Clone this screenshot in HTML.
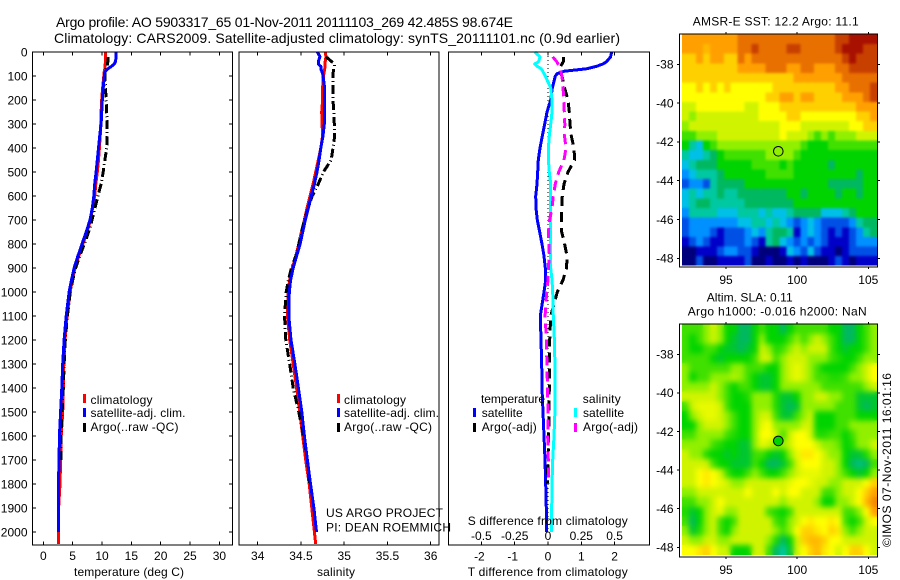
<!DOCTYPE html>
<html><head><meta charset="utf-8"><title>Argo profile</title>
<style>
html,body{margin:0;padding:0;background:#fff}
svg{display:block}
text{font-family:"Liberation Sans",sans-serif;font-size:12px;fill:#000}
</style></head>
<body>
<svg id="chart" xmlns="http://www.w3.org/2000/svg" width="900" height="580" viewBox="0 0 900 580">
<defs>
<filter id="blurSst" filterUnits="userSpaceOnUse" x="660" y="0" width="240" height="600" color-interpolation-filters="sRGB"><feGaussianBlur stdDeviation="1.2"/></filter>
<filter id="blurSla" filterUnits="userSpaceOnUse" x="660" y="0" width="240" height="600" color-interpolation-filters="sRGB"><feGaussianBlur stdDeviation="3"/></filter>
</defs>
<rect width="900" height="580" fill="#fff"/>
<text x="56" y="27" style="font-size:14px" textLength="457">Argo profile: AO 5903317_65 01-Nov-2011 20111103_269 42.485S 98.674E</text>
<text x="54" y="43" style="font-size:14px" textLength="566">Climatology: CARS2009. Satellite-adjusted climatology: synTS_20111101.nc (0.9d earlier)</text>
<g id="plots"></g>
<g id="maps"></g>

<g>
<rect x="83" y="394" width="3" height="9" fill="#f00"/>
<rect x="83" y="408" width="3" height="9" fill="#00f"/>
<rect x="83" y="423" width="3" height="9" fill="#000"/>
<text x="90.5" y="404" textLength="62">climatology</text>
<text x="90.5" y="417" textLength="95">satellite-adj. clim.</text>
<text x="90.5" y="431" textLength="88">Argo(..raw -QC)</text>
</g>
<g>
<rect x="337" y="394" width="3" height="9" fill="#f00"/>
<rect x="337" y="408" width="3" height="9" fill="#00f"/>
<rect x="337" y="423" width="3" height="9" fill="#000"/>
<text x="344" y="404" textLength="62">climatology</text>
<text x="344" y="417" textLength="95">satellite-adj. clim.</text>
<text x="344" y="431" textLength="88">Argo(..raw -QC)</text>
</g>
<g>
<text x="481" y="403" textLength="64">temperature</text>
<text x="582.7" y="403" textLength="38">salinity</text>
<rect x="473" y="408" width="3" height="9" fill="#00f"/>
<rect x="473" y="423" width="3" height="9" fill="#000"/>
<rect x="574" y="408" width="3" height="9" fill="#0ff"/>
<rect x="574" y="423" width="3" height="9" fill="#f0f"/>
<text x="481.7" y="417" textLength="41">satellite</text>
<text x="481.7" y="431" textLength="55">Argo(-adj)</text>
<text x="583" y="417" textLength="41">satellite</text>
<text x="583" y="431" textLength="55">Argo(-adj)</text>
</g>
<text x="326" y="517" textLength="117">US ARGO PROJECT</text>
<text x="326" y="531.7" textLength="125">PI: DEAN ROEMMICH</text>
<text x="467.7" y="525" textLength="160">S difference from climatology</text>
<text x="467.7" y="576" textLength="160">T difference from climatology</text>
<text x="74" y="576" textLength="110">temperature (deg C)</text>
<text x="317" y="576" textLength="38">salinity</text>
<text x="692.7" y="25.7" textLength="166">AMSR-E SST: 12.2 Argo: 11.1</text>
<text x="706.7" y="301.7" textLength="86">Altim. SLA: 0.11</text>
<text x="687.7" y="315.7" textLength="179">Argo h1000: -0.016 h2000: NaN</text>
<text transform="translate(891,547) rotate(-90)" textLength="174">©IMOS 07-Nov-2011 16:01:16</text>
</svg>
<script>
const depthLevels = [0,20,40,50,60,70,80,90,100,150,200,250,300,350,400,450,500,550,600,650,700,750,800,850,900,950,1000,1100,1200,1300,1400,1500,1600,1700,1800,1900,2000,2050];
const tempClimatology = [10.6,10.6,10.6,10.55,10.5,10.5,10.4,10.35,10.3,10.1,9.95,9.85,9.8,9.7,9.55,9.4,9.2,8.95,8.75,8.4,8.05,7.45,6.75,6.05,5.4,4.95,4.55,4.05,3.7,3.5,3.4,3.3,3.05,2.95,2.85,2.6,2.55,2.55];
const tempSatellite = [12.4,12.4,12.3,12.1,11.6,11,10.6,10.4,10.4,10.2,10.05,9.95,9.85,9.6,9.4,9.2,9.0,8.75,8.6,8.35,7.95,7.3,6.6,5.9,5.25,4.8,4.4,3.9,3.55,3.3,3.15,2.95,2.75,2.7,2.58,2.56,2.55,null];
const tempArgo = [null,11,11,10.9,10.9,10.7,10.6,10.5,10.5,10.6,10.7,10.8,10.85,10.85,10.8,10.5,10.2,9.85,9.3,8.8,8.3,7.7,7.0,6.2,5.5,5.0,4.6,4.1,3.75,3.55,3.4,3.2,3.05,3.0,null,null,null,null];
const salClimatology = [34.78,34.79,34.78,34.78,34.78,34.775,34.77,34.765,34.76,34.75,34.75,34.74,34.745,34.75,34.73,34.70,34.67,34.64,34.605,34.57,34.54,34.505,34.475,34.44,34.40,34.37,34.35,34.345,34.37,34.41,34.45,34.485,34.52,34.555,34.595,34.625,34.655,34.67];
const salSatellite = [34.69,34.72,34.70,34.70,34.73,34.73,34.74,34.75,34.755,34.775,34.775,34.775,34.77,34.755,34.73,34.71,34.685,34.655,34.62,34.585,34.55,34.52,34.49,34.45,34.41,34.38,34.365,34.36,34.385,34.43,34.47,34.51,34.54,34.575,34.61,34.65,34.68,null];
const salArgo = [null,34.79,34.855,34.885,34.885,34.88,34.875,34.87,34.87,34.87,34.87,34.88,34.885,34.89,34.87,34.85,34.76,34.70,34.63,34.585,34.54,34.505,34.475,34.44,34.39,34.355,34.33,34.31,34.325,34.37,34.41,34.475,34.53,34.575,34.60,null,null,null];
const tDiffSatellite = [1.91,1.88,1.76,1.65,1.45,1.15,0.5,0.28,0.22,0.13,0.08,-0.03,-0.10,-0.17,-0.24,-0.29,-0.31,-0.33,-0.37,-0.36,-0.32,-0.25,-0.18,-0.12,-0.08,-0.07,-0.12,-0.23,-0.21,-0.19,-0.18,-0.15,-0.12,-0.09,-0.07,-0.05,-0.05,null];
const tDiffArgo = [null,0.46,0.46,0.42,0.38,0.36,0.36,0.38,0.42,0.5,0.6,0.64,0.66,0.70,0.78,0.80,0.6,0.48,0.43,0.41,0.41,0.41,0.50,0.57,0.56,0.45,0.28,0.08,0.05,0.04,0.04,0.03,0.02,0.0,-0.02,null,null,null];
const sDiffSatellite = [-0.098,-0.06,-0.07,-0.10,-0.08,-0.05,-0.04,-0.03,-0.02,0.02,0.03,0.03,0.02,0.01,0.003,0.003,0.01,0.02,0.02,0.02,0.018,0.018,0.018,0.02,0.02,0.03,0.035,0.04,0.048,0.052,0.052,0.052,0.045,0.035,0.03,0.028,0.028,null];
const sDiffArgo = [null,0.035,0.065,0.075,0.085,0.09,0.095,0.10,0.105,0.113,0.118,0.122,0.126,0.124,0.135,0.12,0.08,0.055,0.04,0.03,0.012,0.003,0.008,0.01,0.003,0.0,-0.01,-0.022,-0.012,-0.008,-0.004,0.0,-0.002,0.002,0.005,null,null,null];

const depthTicks = [0,100,200,300,400,500,600,700,800,900,1000,1100,1200,1300,1400,1500,1600,1700,1800,1900,2000];
const tempTicks = [0,5,10,15,20,25,30];
const salTicks = [34,34.5,35,35.5,36];
const salTickLabels = ['34','34.5','35','35.5','36'];
const tDiffTicks = [-2,-1,0,1,2];
const sDiffTicks = [-0.5,-0.25,0,0.25,0.5];
const sDiffTickLabels = ['-0.5','-0.25','0','0.25','0.5'];
const lonTicks = [95,100,105];
const latTicks = [38,40,42,44,46,48];

/* map values are colour-scale levels, rows north to south */
const sstGrid = [
[13,13,13,13,13,13,13,13,14,14,14,14,14,14,14,14,14,14,14,14,14,14,15,15,16,16,16,16],
[13,13,13,12.5,13,13,13,13,14,14,15,14,14,14,14,15,15,14,14,14,14,14,15,16,16,16,15,15],
[12,12,13,12,13,13,12,12,14,13,14,14,14,14,14,14,14,14,14,14,14,14,14,15,16,15,15,15],
[12,12,12,12,12,12,12,12,13,13,13,13,14,14,14,13,13,14,14,13,13,13,14,14,15,15,15,15],
[12,12,12,12,12,12,12,12,12,12,12,12,12,12,12,12,13,13,13,13,13,13,13,14,14,14,14,14],
[11,11,12,11,12,11,12,11,11,11,11,11,11,12,12,12,12,12,12,12,12,12,13,13,14,14,14,15],
[11,11,11,11,11,11,11,11,11,11,11,11,12,12,13,13,12,13,13,12,12,12,12,13,13,13,14,15],
[10,10,11,11,11,11,11,11,11,10,10,11,11,11,12,12,12,12,12,12,12,12,12,12,12,13,13,13],
[10,9,10,10,10,10,10,10,10,10,10,11,11,11,11,12,12,11,11,11,11,11,11,11,11,12,12,13],
[9,10,10,10,10,10,10,10,10,10,10,10,10,10,11,11,11,10,10,10,10,10,10,10,11,11,12,12],
[8,8,9,9,9,10,10,10,10,10,10,10,10,10,11,10,10,10,9,8,9,8,9,9,9,10,10,10],
[7,5,4,7,8,9,9,9,9,9,9,9,9,9,9,9,9,8,7,7,7,8,8,8,8,8,8,8],
[5,4,4,5,6,7,8,8,8,8,8,8,9,9,9,9,8,7,7,7,7,7,7,7,7,7,7,7],
[4,5,6,6,6,7,7,7,7,7,8,8,8,8,7,8,7,7,7,7,7,6,7,7,7,7,7,7],
[3,4,5,5,5,6,7,7,7,7,7,7,8,8,8,8,7,7,7,7,7,7,7,7,7,6,7,7],
[2,3,3,2,5,6,6,6,6,7,7,7,7,7,7,7,7,7,7,7,7,6,6,6,6,6,7,7],
[4,5,4,5,5,6,5,5,6,6,6,6,6,6,6,7,7,6,7,7,7,7,6,7,7,6,7,7],
[4,5,6,6,5,5,5,5,5,6,6,6,6,6,6,6,7,7,7,7,7,7,7,7,7,7,7,7],
[3,5,5,5,5,4,4,4,5,5,5,4,5,4,4,5,6,6,6,6,4,4,4,5,6,7,7,7],
[2,3,3,3,3,3,3,3,4,4,5,5,4,5,4,3,2,3,4,3,2,2,2,2,3,5,6,6],
[2,3,3,3,2,1,2,2,2,3,4,3,5,6,6,5,1,3,4,3,2,1,2,1,2,3,5,6],
[1,2,3,2,1,1,2,2,2,3,2,1,5,6,4,3,2,3,2,3,2,1,1,1,2,3,3,3],
[0,0,1,1,1,2,3,3,2,2,1,0,0,0,1,4,3,2,4,2,1,1,0,1,2,2,2,2],
[0,0,2,0,0,1,1,1,1,2,0,0,1,0,0,1,0,1,0,0,0,1,2,1,0,1,1,1]
];
const slaGrid = [
[8,8,8,9,10,9,7,7,6,6,7,8,7,7,6,7,8,8,8,8,8,7,7,6,6,7,8,9],
[8,7,8,9,10,9,7,6.5,6,6,7,9,7,7,7,8,9,8,9,10,9,8,7,6,6,7,8,9],
[8,7,7,8,8,7,6.5,6.5,6,6.5,7,10,9,7.5,8,9,10,9,10,10,10,8,7,6.5,7,7,8,9],
[8,8,8,8,7,6.5,7,7,7,7,8,10,10,8,9,10,10,10,9,9,9,8,7.5,7,7,8,9,9],
[9,8,8,8,8,8,8,9,9,8,8,8,7,7,9,10,10.5,10,9,8,7,7,7,7,8,9,10,11],
[9,7,8,8,9,9,9,9.5,9,8,7,6.5,6.5,7,9,10,10.5,10,9,8,8,7.5,7.5,8,9,9,10,11],
[9,9,9,9,10,9,8,7,8,8,7,6.5,6.5,7,9,9,9,9,9,9,8,8,8,8,8,8,9,10],
[10,10,10,10,10,9,8,7,7,7.5,9,9,9,7.5,6.5,6.5,7,9,9,10,10,9,9,8,8,6.5,6.5,6.5],
[8,10,10.5,10.5,10.5,10,8,7,7,7,9,9,9,7.5,6.5,6,6.5,9,9,9,9,9,8,8,8,6.5,6,6.5],
[7,9,10,10.5,10.5,10,9,8,7,7,9,10,10,8,6.5,6.5,8,9,10,7,7,7,8,8,8,7,7,7],
[7,7,9,10,10,10,9,8,7,7,9,10.5,11,9,9,9,9,10,10,7,7,7,8,8,9,9,9,9],
[8,8,9,9,9,9,8,7.5,7,7,9,11,11,10,8,10,11,11,10,7.5,7.5,8,8,7,8,9,9,9],
[9,9,9,9,8,7.5,7,7,6.5,6.5,9,10.5,10,9,9,10,11,11,11,10,9,9,8.5,7,7.5,9,9,10],
[10,9,9,7.5,7,7,6.5,7,6.5,6.5,8,8,7,6.5,7,9,10.5,11.5,11.5,11,10,9,9,7,6.5,6.5,7.5,9],
[10,10,10,10,8,7,7,6.5,6.5,6.5,8,7,6,6,6.5,8,10,11,11,11,10,10,9,7,6,5.5,6,8],
[10,10,11,11.5,11,10,8,7,7,8,9,8,7,7,8,9,10,10.5,10.5,10.5,10,10,9,8,7,6.5,7,9],
[10,10,11,11.5,11,10.5,10,9,9,10,10,10,10,10,10,10.5,11,11,10.5,10,10,9,9,10,10,10,11,12],
[9,9,10,10,10,10,10,10,10,11,10,10,10,11,10,11,11,10,10,10,8,8,9,10,10,11,12,13],
[8,8,9,9,10,11,10,10,10,10,10,10,10,10,9,10,10,10,10,9,7,7,9,9,10,11,12.5,13.5],
[7.5,6.5,7,9,10,10.5,9,9,10,10,10,10,8,7.5,7,8,10,10,10,10,10,10,10,8,8,9,11,13],
[8,6,7,9,10,8,7,8,10,10,10,10,10,8,7.5,9,10,11,11.5,11,11,11.5,11,8,7,8,10,11],
[9,6.5,7.5,9,10,8,7,9,10,10,10,10,10,9,8,9,11,12,12,11.5,11,12,11.5,9,8,9,10,10],
[10,9,9,10,10,9,9,10,10,10,10,10,9,7.5,6,7,10,12,12.5,12.5,12,11,11,10,10,10,10,10],
[11,11,11.5,12,11,10,10,7,7,7,10,10,8,6,5,6.5,10,11,12,12.5,11.5,11,10,11,12,12,11,10]
];
const argoFloat = {lon: 98.674, lat: 42.485};
const sstFloatLevel = 9;
const slaFloatLevel = 7;

const NS = 'http://www.w3.org/2000/svg';
const svgRoot = document.getElementById('chart');
const plots = document.getElementById('plots');
const maps = document.getElementById('maps');

function mk(tag, attrs, parent){
  const el = document.createElementNS(NS, tag);
  for (const k in attrs) el.setAttribute(k, attrs[k]);
  parent.appendChild(el);
  return el;
}
function hLine(x1,x2,y,parent){ return mk('line',{x1:x1,x2:x2,y1:y,y2:y,stroke:'#000','stroke-width':1,'shape-rendering':'crispEdges'},parent); }
function vLine(x,y1,y2,parent){ return mk('line',{x1:x,x2:x,y1:y1,y2:y2,stroke:'#000','stroke-width':1,'shape-rendering':'crispEdges'},parent); }

/* axis functions */
const plotTop = 52, plotBottom = 545;
const depthY = d => 52 + 0.24 * d;
const tempX = t => 43.3 + 5.87 * t;
const salX = s => 257.7 + 86.5 * (s - 34);
const tDiffX = t => 548 + 33.3 * t;
const sDiffX = s => 548 + 133.2 * s;

function seriesPath(values, xFn){
  let d = '', pen = false;
  values.forEach((v,i) => {
    if (v === null) { pen = false; return; }
    d += (pen ? 'L' : 'M') + xFn(v).toFixed(1) + ' ' + depthY(depthLevels[i]).toFixed(1);
    pen = true;
  });
  return d;
}
function drawSeries(values, xFn, color, dash, name, parent){
  const el = mk('path',{d:seriesPath(values,xFn),fill:'none',stroke:color,'stroke-width':3,'stroke-dasharray':dash,'stroke-linejoin':'round','shape-rendering':'crispEdges'},parent);
  
  
}
function drawFrame(left,right,name,parent){
  const el = mk('rect',{x:left,y:plotTop,width:right-left,height:plotBottom-plotTop,fill:'none',stroke:'#000','stroke-width':1,'shape-rendering':'crispEdges'},parent);
  
  
}
function tickLabel(str,x,y,anchor,name,parent){
  const t = mk('text',{x:x,y:y,'text-anchor':anchor},parent);
  t.textContent = str;
  
  
}

/* temperature panel */
const p1 = mk('g',{},plots);


drawSeries(tempClimatology,tempX,'#f00','none','temperature-climatology-line',p1);
drawSeries(tempArgo,tempX,'#000','9 3 1 3','temperature-argo-line',p1);
drawSeries(tempSatellite,tempX,'#00f','none','temperature-satellite-line',p1);
drawFrame(32.5,232.5,'temperature-axes',p1);
depthTicks.forEach(d => {
  hLine(32.5,36,depthY(d),p1);
  hLine(229,232.5,depthY(d),p1);
  tickLabel(String(d),27.5,depthY(d)+4.5,'end','depth-tick-label',p1);
});
tempTicks.forEach((t,i) => {
  vLine(tempX(t),52,55.5,p1);
  vLine(tempX(t),541.5,545,p1);
  tickLabel(String(t),tempX(t),560,'middle','temperature-tick-label',p1);
});

/* salinity panel */
const p2 = mk('g',{},plots);


drawSeries(salClimatology,salX,'#f00','none','salinity-climatology-line',p2);
drawSeries(salArgo,salX,'#000','9 3 1 3','salinity-argo-line',p2);
drawSeries(salSatellite,salX,'#00f','none','salinity-satellite-line',p2);
drawFrame(239,439,'salinity-axes',p2);
salTicks.forEach((s,i) => {
  vLine(salX(s),52,55.5,p2);
  vLine(salX(s),541.5,545,p2);
  tickLabel(salTickLabels[i],salX(s),560,'middle','salinity-tick-label',p2);
});

/* difference panel */
const p3 = mk('g',{},plots);


const zero = mk('line',{x1:tDiffX(0),x2:tDiffX(0),y1:plotTop,y2:depthY(2000),stroke:'#000','stroke-width':1,'stroke-dasharray':'1 3','shape-rendering':'crispEdges'},p3);


drawSeries(tDiffSatellite,tDiffX,'#00f','none','t-difference-satellite-line',p3);
drawSeries(tDiffArgo,tDiffX,'#000','10 6','t-difference-argo-line',p3);
drawSeries(sDiffSatellite,sDiffX,'#0ff','none','s-difference-satellite-line',p3);
drawSeries(sDiffArgo,sDiffX,'#f0f','10 6','s-difference-argo-line',p3);
drawFrame(448.5,649.5,'difference-axes',p3);
tDiffTicks.forEach(t => {
  vLine(tDiffX(t),52,55.5,p3);
  vLine(tDiffX(t),541.5,545,p3);
  tickLabel(String(t),tDiffX(t)-(t<0?2:0),560.5,'middle','t-difference-tick-label',p3);
});
sDiffTicks.forEach((s,i) => {
  tickLabel(sDiffTickLabels[i],sDiffX(s),540,'middle','s-difference-tick-label',p3);
});

/* maps */
const colorStops = ['#00007c','#0000c8','#0050e6','#0090ff','#00c0e8','#00c8a0','#00b860','#00d400','#40e000','#90f000','#d0f400','#ffff00','#ffd000','#ffa000','#e87000','#c84000','#a81000'];
function hex(c){ return [1,3,5].map(i => parseInt(c.substr(i,2),16)); }
function levelColor(v){
  const a = Math.max(0, Math.min(colorStops.length-1, v));
  const i = Math.min(Math.floor(a), colorStops.length-2), f = a - i;
  const p = hex(colorStops[i]), q = hex(colorStops[i+1]);
  return 'rgb(' + p.map((c,k) => Math.round(c + (q[k]-c)*f)).join(',') + ')';
}
const mapLonStart = 91.91, mapLonStep = 0.489, mapLatStart = 36.46, mapLatStep = 0.497;
const mapLonX = lon => 726 + 14.23 * (lon - 95);

function drawMap(grid, name, frameTop, frameBottom, lat38Y, pxPerDeg, labelY, floatLevel, blurId){
  const g = mk('g',{},maps);
  
  
  const latY = lat => lat38Y + pxPerDeg * (lat - 38);
  const clip = mk('clipPath',{id:name + '-clip'},svgRoot);
  mk('rect',{x:682,y:frameTop,width:195.5,height:frameBottom-frameTop-1.5},clip);
  const area = mk('g',{'clip-path':'url(#' + name + '-clip)'},g);
  
  
  const cells = mk('g',{id:name + '-cells'},area);
  grid.forEach((row,r) => row.forEach((v,c) => {
    const x0 = mapLonX(mapLonStart + c*mapLonStep), x1 = mapLonX(mapLonStart + (c+1)*mapLonStep);
    const y0 = latY(mapLatStart + r*mapLatStep), y1 = latY(mapLatStart + (r+1)*mapLatStep);
    const cell = mk('rect',{x:x0.toFixed(2),y:y0.toFixed(2),width:(x1-x0).toFixed(2),height:(y1-y0).toFixed(2),fill:levelColor(v),'shape-rendering':'crispEdges'},cells);
    
    
  }));
  const soft = mk('use',{href:'#' + name + '-cells',filter:'url(#' + blurId + ')'},area);
  
  
  const frame = mk('rect',{x:679.5,y:frameTop,width:198,height:frameBottom-frameTop,fill:'none',stroke:'#000','stroke-width':1,'shape-rendering':'crispEdges'},g);
  
  
  lonTicks.forEach(lon => {
    vLine(mapLonX(lon),frameTop-2,frameTop,g);
    vLine(mapLonX(lon),frameBottom,frameBottom+2,g);
    tickLabel(String(lon),mapLonX(lon),labelY,'middle','longitude-tick-label',g);
  });
  latTicks.forEach(lat => {
    hLine(677,679.5,latY(lat),g);
    hLine(877.5,880,latY(lat),g);
    tickLabel('-' + lat,673.5,latY(lat)+4.3,'end','latitude-tick-label',g);
  });
  const dot = mk('circle',{cx:mapLonX(argoFloat.lon).toFixed(1),cy:latY(argoFloat.lat).toFixed(1),r:4.8,fill:levelColor(floatLevel),stroke:'#000','stroke-width':1},g);
  
  
}
drawMap(sstGrid,'sst-map',34,267,64.3,19.4,284,sstFloatLevel,'blurSst');
drawMap(slaGrid,'sla-map',324,557,354.3,19.3,574,slaFloatLevel,'blurSla');
</script>
</body></html>
